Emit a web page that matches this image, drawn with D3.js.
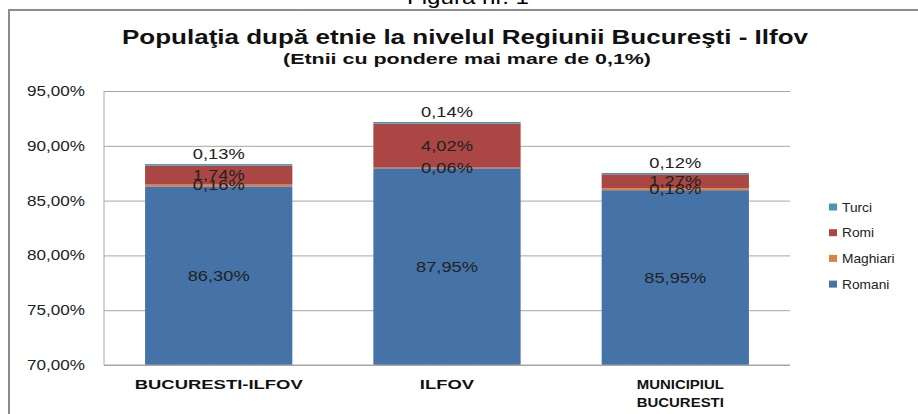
<!DOCTYPE html>
<meta charset="utf-8">
<script src="https://d3js.org/d3.v7.min.js"></script>
<style>
  body { margin: 0; background: #fff; }
  svg { font-family: "Liberation Sans", Arial, sans-serif; display: block; }
</style>
<svg></svg>
<script>
    var width = 918, height = 414;
    var margin = ({top: 91, right: 128, bottom: 49, left: 104});

    // data
    var categories = ["BUCURESTI-ILFOV", "ILFOV", "MUNICIPIUL BUCURESTI"];
    var series = ["Romani", "Maghiari", "Romi", "Turci"];
    var romani   = [86.30, 87.95, 85.95];
    var maghiari = [0.16, 0.06, 0.18];
    var romi     = [1.74, 4.02, 1.27];
    var turci    = [0.13, 0.14, 0.12];
    var yTicks = [70, 75, 80, 85, 90, 95];
    var colors = ["#4572A7", "#DB843D", "#AA4643", "#4198AF"];

    var rows = categories.map((c, i) => ({
        cat: c, Romani: romani[i], Maghiari: maghiari[i], Romi: romi[i], Turci: turci[i]
    }));

    var stacked = d3.stack().keys(series)(rows);

    var x = d3.scaleBand().domain(categories)
        .range([margin.left, width - margin.right]).paddingInner(0.355).paddingOuter(0.18);
    var y = d3.scaleLinear().domain([70, 95]).range([height - margin.bottom, margin.top]);
    var color = d3.scaleOrdinal(series, colors);
    var pct = d => d3.format(".2f")(d).replace(".", ",") + "%";

    // the original chart text is a bit wider than Arial, so stretch it sideways
    function wideText(g, tx, ty, str, anchor, sx) {
        return g.append("text")
            .attr("transform", `translate(${tx},${ty}) scale(${sx || 1.22},1)`)
            .attr("text-anchor", anchor || "middle")
            .text(str);
    }

    var svg = d3.select("svg").attr("width", width).attr("height", height)
        .attr("viewBox", [0, 0, width, height]);

    // outer frame and caption
    svg.append("rect").attr("x", 9).attr("y", 10).attr("width", 920).attr("height", 420)
        .attr("fill", "none").attr("stroke", "#8c8c8c").attr("stroke-width", 2);
    svg.append("text").attr("transform", `translate(468,4) scale(1.15,1)`).attr("text-anchor", "middle")
        .attr("font-size", 21).attr("fill", "#000").text("Figura nr. 1");

    // title
    svg.append("text").attr("x", 465).attr("y", 44).attr("text-anchor", "middle")
        .attr("font-size", 21).attr("font-weight", "bold").attr("fill", "#111")
        .attr("textLength", 686).attr("lengthAdjust", "spacingAndGlyphs")
        .text("Populaţia după etnie la nivelul Regiunii Bucureşti - Ilfov");
    svg.append("text").attr("x", 467).attr("y", 64).attr("text-anchor", "middle")
        .attr("font-size", 15).attr("font-weight", "bold").attr("fill", "#111")
        .attr("textLength", 368).attr("lengthAdjust", "spacingAndGlyphs")
        .text("(Etnii cu pondere mai mare de 0,1%)");

    // gridlines + y axis
    var yAxis = g => g.attr("transform", `translate(${margin.left},0)`)
        .call(d3.axisLeft(y).tickValues(yTicks)
            .tickSize(-(width - margin.left - margin.right))
            .tickFormat(""))
        .call(g => g.select(".domain").remove())
        .call(g => g.selectAll(".tick line").attr("stroke", "#a6a6a6"));
    svg.append("g").call(yAxis);
    var yLabels = svg.append("g").attr("font-size", 14).attr("fill", "#222");
    yTicks.forEach(t => wideText(yLabels, 85, y(t) + 5, pct(t), "end"));
    svg.append("line").attr("x1", margin.left).attr("x2", margin.left)
        .attr("y1", margin.top).attr("y2", height - margin.bottom).attr("stroke", "#a6a6a6");

    // bars
    svg.append("clipPath").attr("id", "plot").append("rect")
        .attr("x", margin.left).attr("y", margin.top)
        .attr("width", width - margin.left - margin.right)
        .attr("height", height - margin.top - margin.bottom);

    var bars = svg.append("g").attr("clip-path", "url(#plot)");
    bars.selectAll("g").data(stacked).join("g")
        .attr("fill", d => color(d.key))
        .selectAll("rect").data(d => d).join("rect")
        .attr("x", d => x(d.data.cat))
        .attr("width", x.bandwidth())
        .attr("y", d => y(d[1]))
        .attr("height", d => y(d[0]) - y(d[1]));

    // x axis line
    svg.append("line").attr("x1", margin.left).attr("x2", width - margin.right)
        .attr("y1", y(70)).attr("y2", y(70)).attr("stroke", "#a6a6a6");

    // data labels
    var labels = svg.append("g").attr("font-size", 15).attr("fill", "#222");
    stacked.forEach(s => {
        s.forEach(d => {
            var lo = Math.max(d[0], 70);
            var cy = y((lo + d[1]) / 2);
            if (s.key === "Turci") cy -= 11;
            wideText(labels, x(d.data.cat) + x.bandwidth() / 2, cy + 5, pct(d.data[s.key]));
        });
    });

    // category labels
    var catLabels = svg.append("g").attr("font-size", 13).attr("font-weight", "bold").attr("fill", "#111");
    categories.forEach(c => {
        var words = c === "MUNICIPIUL BUCURESTI" ? ["MUNICIPIUL", "BUCURESTI"] : [c];
        var two = words.length > 1;
        var cx = x(c) + x.bandwidth() / 2 + (two ? 5 : 0);
        words.forEach((w, i) => wideText(catLabels, cx, 389 + i * 18, w, "middle", two ? 1.15 : 1.42));
    });

    // legend
    var legend = svg.append("g").attr("font-size", 12.5).attr("fill", "#222");
    series.slice().reverse().forEach((s, i) => {
        var ly = 207 + i * 25.7;
        legend.append("rect").attr("x", 829).attr("y", ly - 3.5).attr("width", 8).attr("height", 7)
            .attr("fill", color(s));
        wideText(legend, 842, ly + 4.5, s, "start", 1.1);
    });
</script>
